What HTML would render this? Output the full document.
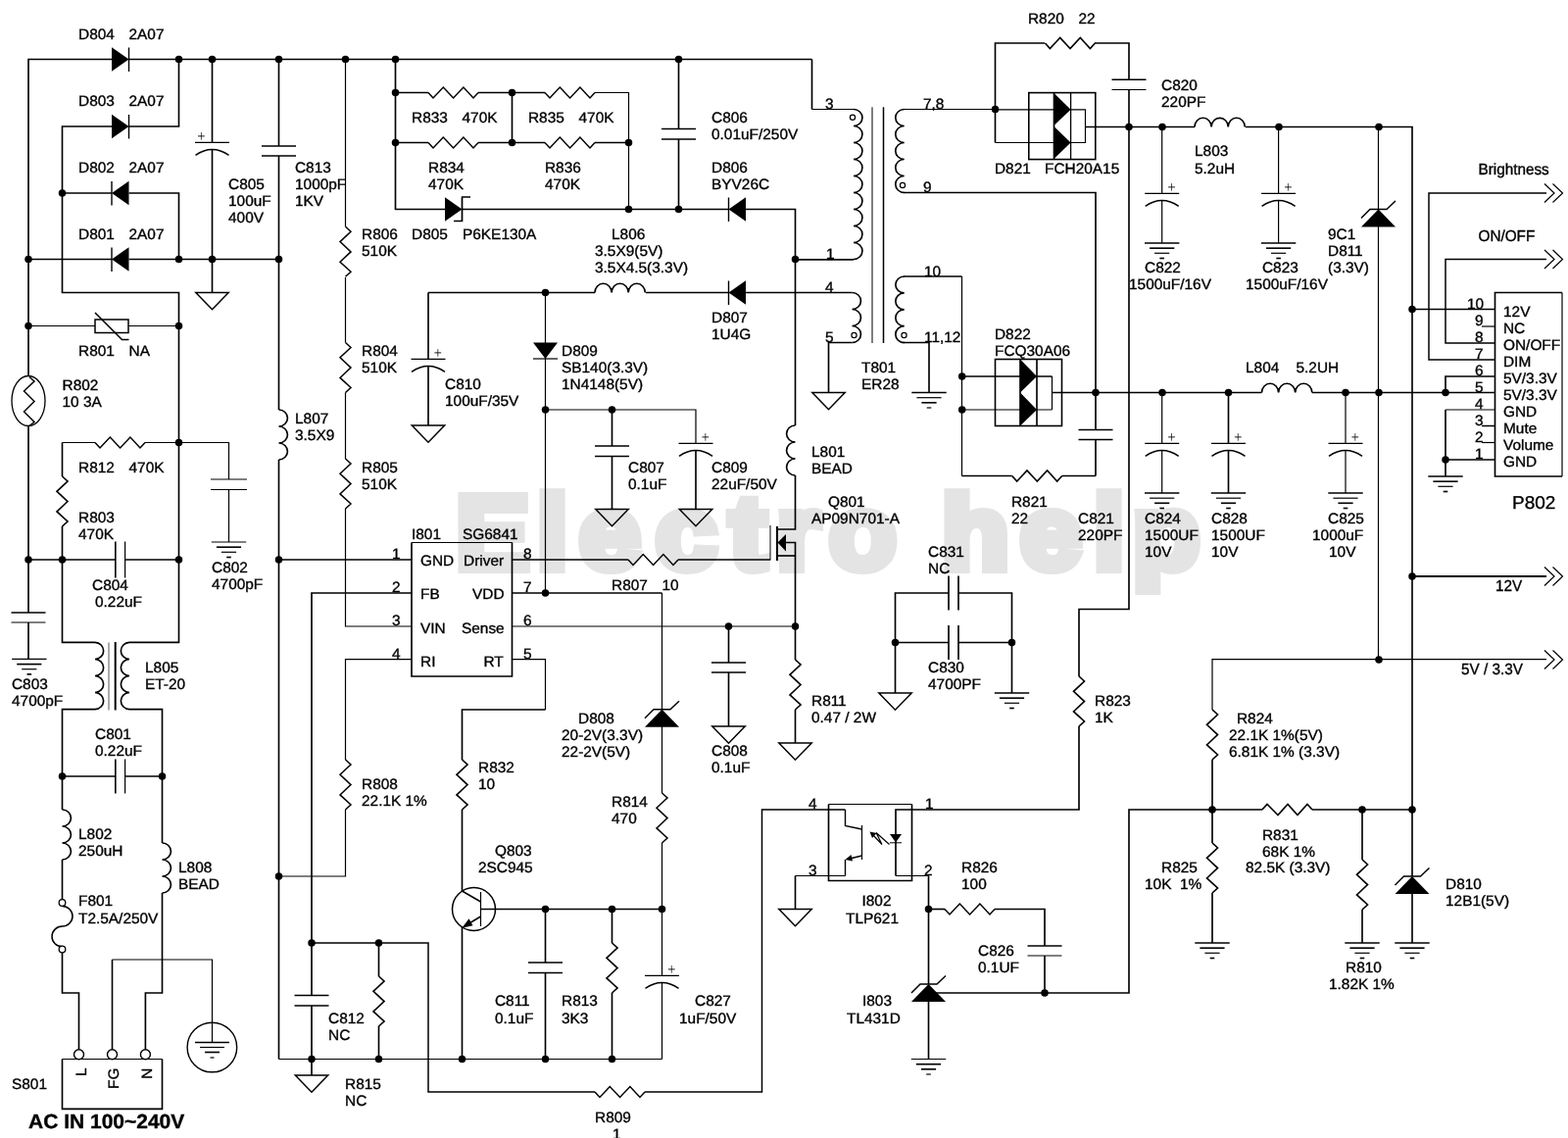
<!DOCTYPE html>
<html lang="en">
<head>
<meta charset="utf-8">
<title>Power supply schematic</title>
<style>
html,body{margin:0;padding:0;background:#fff;}
body{width:1600px;height:1161px;overflow:hidden;font-family:"Liberation Sans",Arial,sans-serif;}
svg{display:block;will-change:transform;}
text{white-space:pre;}
</style>
</head>
<body>
<svg width="1600" height="1161" viewBox="0 0 1600 1161">
<rect width="1600" height="1161" fill="#fff"/>
<text transform="scale(1.06,1)" y="579.7" x="439.0 517.0 557.5 631.1 702.4 747.6 798.1 858.1 906.6 982.1 1052.8 1090.4" font-family="'Liberation Sans', Arial, sans-serif" font-weight="bold" font-size="106" fill="#e4e4e4" stroke="#e4e4e4" stroke-width="10" stroke-linejoin="miter" text-rendering="geometricPrecision" xml:space="preserve">Electro help</text>
<g fill="none" stroke="#000" stroke-linecap="butt" stroke-linejoin="miter">
<polyline points="29,625 29,434.5" stroke-width="1.65"/>
<polyline points="29,384 29,60.5 114,60.5" stroke-width="1.65"/>
<line x1="131.5" y1="60.5" x2="828.5" y2="60.5" stroke-width="1.65"/>
<polygon points="114,48.2 131.5,60.5 114,72.8" fill="#000" stroke="none"/>
<line x1="131.5" y1="48.5" x2="131.5" y2="73" stroke-width="1.4"/>
<polyline points="182.5,60.5 182.5,129 131.5,129" stroke-width="1.65"/>
<polyline points="114,129 63.5,129 63.5,298.5 182.5,298.5 182.5,655.4 132,655.4" stroke-width="1.65"/>
<polygon points="114,116.7 131.5,129 114,141.3" fill="#000" stroke="none"/>
<line x1="131.5" y1="117" x2="131.5" y2="141.5" stroke-width="1.4"/>
<polyline points="63.5,197 114,197" stroke-width="1.65"/>
<polyline points="131.5,197 182.5,197 182.5,264.5" stroke-width="1.65"/>
<polygon points="131.5,184.7 114,197 131.5,209.3" fill="#000" stroke="none"/>
<line x1="114" y1="185" x2="114" y2="209.5" stroke-width="1.4"/>
<line x1="29" y1="264.5" x2="114" y2="264.5" stroke-width="1.65"/>
<line x1="131.5" y1="264.5" x2="284.5" y2="264.5" stroke-width="1.65"/>
<polygon points="131.5,252.2 114,264.5 131.5,276.8" fill="#000" stroke="none"/>
<line x1="114" y1="252.5" x2="114" y2="277" stroke-width="1.4"/>
<line x1="216.5" y1="60.5" x2="216.5" y2="145" stroke-width="1.65"/>
<line x1="199" y1="145.4" x2="234" y2="145.4" stroke-width="1.2"/>
<path d="M199.5,158.3 Q216.5,146.6 233.5,158.3" stroke-width="1.5"/>
<line x1="202" y1="138.9" x2="208.8" y2="138.9" stroke-width="0.9"/>
<line x1="205.4" y1="135.1" x2="205.4" y2="142.7" stroke-width="0.7"/>
<line x1="216.5" y1="152" x2="216.5" y2="298.5" stroke-width="1.65"/>
<polygon points="199.8,298.5 233.2,298.5 216.5,315.7" fill="none" stroke-width="1.5"/>
<line x1="284.5" y1="60.5" x2="284.5" y2="149" stroke-width="1.65"/>
<line x1="267" y1="149" x2="302" y2="149" stroke-width="1.65"/>
<line x1="267" y1="159" x2="302" y2="159" stroke-width="1.65"/>
<line x1="284.5" y1="159" x2="284.5" y2="418" stroke-width="1.65"/>
<path d="M284.5,418 a8.93,8.5 0 0 1 0,17 a8.93,8.5 0 0 1 0,17 a8.93,8.5 0 0 1 0,17" stroke-width="1.65"/>
<line x1="284.5" y1="469" x2="284.5" y2="1080.5" stroke-width="1.65"/>
<line x1="352.5" y1="60.5" x2="352.5" y2="231.3" stroke-width="1.2"/>
<polyline points="352.5,231.3 358,236.3 347,246.6 358,256.9 347,267.2 358,277.3 352.5,282.3" stroke-width="1.5"/>
<line x1="352.5" y1="283" x2="352.5" y2="349.5" stroke-width="1.2"/>
<polyline points="352.5,349.5 358,354.5 347,364.8 358,375.1 347,385.4 358,395.5 352.5,400.5" stroke-width="1.5"/>
<line x1="352.5" y1="400.5" x2="352.5" y2="468" stroke-width="1.2"/>
<polyline points="352.5,468 358,473 347,483.3 358,493.6 347,503.9 358,514 352.5,519" stroke-width="1.5"/>
<polyline points="352.5,519 352.5,639 420,639" stroke-width="1.2"/>
<line x1="29" y1="332.5" x2="97" y2="332.5" stroke-width="1.2"/>
<line x1="131" y1="332.5" x2="182.5" y2="332.5" stroke-width="1.2"/>
<rect x="97" y="326" width="34" height="13.5" stroke-width="1.5"/>
<polyline points="97,319 124.5,346.5 131.5,346.5" stroke-width="1.5"/>
<ellipse cx="29" cy="409" rx="17" ry="25.5" stroke-width="1.3"/>
<polyline points="30,384.5 35,389 24.5,399 35,409.5 24.5,420 35,430.5 30,434.5" stroke-width="1.5"/>
<line x1="63.5" y1="451.5" x2="97" y2="451.5" stroke-width="1.2"/>
<polyline points="97,451.5 102,457 112.3,446 122.6,457 132.9,446 143,457 148,451.5" stroke-width="1.5"/>
<polyline points="148,451.5 233.5,451.5 233.5,489" stroke-width="1.2"/>
<line x1="215" y1="489" x2="252" y2="489" stroke-width="1.2"/>
<line x1="215" y1="499.5" x2="252" y2="499.5" stroke-width="1.2"/>
<line x1="233.5" y1="499.5" x2="233.5" y2="553" stroke-width="1.2"/>
<line x1="215.8" y1="553" x2="251.2" y2="553" stroke-width="1.2"/>
<line x1="220.9" y1="558.2" x2="246.1" y2="558.2" stroke-width="1.65"/>
<line x1="225.9" y1="563.3" x2="241.1" y2="563.3" stroke-width="1.2"/>
<line x1="231.2" y1="568.5" x2="235.8" y2="568.5" stroke-width="1.65"/>
<line x1="63.5" y1="451.5" x2="63.5" y2="486" stroke-width="1.65"/>
<polyline points="63.5,486 69,491 58,501.3 69,511.6 58,521.9 69,532 63.5,537" stroke-width="1.65"/>
<polyline points="63.5,537 63.5,655.4 97,655.4" stroke-width="1.65"/>
<line x1="29" y1="571" x2="118" y2="571" stroke-width="1.65"/>
<line x1="128" y1="571" x2="182.5" y2="571" stroke-width="1.65"/>
<line x1="117.8" y1="552.5" x2="117.8" y2="589.5" stroke-width="1.65"/>
<line x1="127.6" y1="552.5" x2="127.6" y2="589.5" stroke-width="1.2"/>
<line x1="11.5" y1="625" x2="46.5" y2="625" stroke-width="1.65"/>
<line x1="11.5" y1="635" x2="46.5" y2="635" stroke-width="1.2"/>
<line x1="29" y1="635" x2="29" y2="672.5" stroke-width="1.65"/>
<line x1="12.1" y1="672.4" x2="47.5" y2="672.4" stroke-width="1.2"/>
<line x1="17.2" y1="677.6" x2="42.4" y2="677.6" stroke-width="1.65"/>
<line x1="22.2" y1="682.7" x2="37.4" y2="682.7" stroke-width="1.2"/>
<line x1="27.5" y1="687.9" x2="32.1" y2="687.9" stroke-width="1.65"/>
<path d="M97,655.4 a8.95,8.53 0 0 1 0,17.05 a8.95,8.53 0 0 1 0,17.05 a8.95,8.53 0 0 1 0,17.05 a8.95,8.53 0 0 1 0,17.05" stroke-width="1.65"/>
<polyline points="97,723.6 63.5,723.6 63.5,826" stroke-width="1.65"/>
<path d="M132,655.4 a8.95,8.53 0 0 0 0,17.05 a8.95,8.53 0 0 0 0,17.05 a8.95,8.53 0 0 0 0,17.05 a8.95,8.53 0 0 0 0,17.05" stroke-width="1.65"/>
<polyline points="132,723.6 165.5,723.6 165.5,860" stroke-width="1.65"/>
<line x1="111" y1="655.5" x2="111" y2="724.5" stroke-width="1.1" stroke="#666"/>
<line x1="117.7" y1="655" x2="117.7" y2="724.5" stroke-width="2"/>
<line x1="63.5" y1="792" x2="118" y2="792" stroke-width="1.65"/>
<line x1="128" y1="792" x2="165.5" y2="792" stroke-width="1.65"/>
<line x1="117.8" y1="774.5" x2="117.8" y2="809.5" stroke-width="1.65"/>
<line x1="127.6" y1="774.5" x2="127.6" y2="809.5" stroke-width="1.2"/>
<path d="M63.5,826 a8.93,8.5 0 0 1 0,17 a8.93,8.5 0 0 1 0,17 a8.93,8.5 0 0 1 0,17" stroke-width="1.65"/>
<line x1="63.5" y1="877" x2="63.5" y2="918" stroke-width="1.65"/>
<path d="M63.5,924.5 a10.5,10.3 0 0 1 0,20.6 a10.5,10.3 0 0 0 0,20.6" stroke-width="1.5"/>
<circle cx="63.5" cy="921" r="3.3" fill="#fff" stroke-width="1.3"/>
<circle cx="63.5" cy="968.5" r="3.3" fill="#fff" stroke-width="1.3"/>
<polyline points="63.5,972 63.5,1013 80.5,1013 80.5,1070.5" stroke-width="1.65"/>
<path d="M165.5,860 a8.93,8.5 0 0 1 0,17 a8.93,8.5 0 0 1 0,17 a8.93,8.5 0 0 1 0,17" stroke-width="1.65"/>
<polyline points="165.5,911 165.5,1013 148.4,1013 148.4,1070.5" stroke-width="1.65"/>
<line x1="114.5" y1="1070.5" x2="114.5" y2="979" stroke-width="1.6"/>
<polyline points="114.5,979 216.5,979 216.5,1063.5" stroke-width="1.2"/>
<circle cx="216.4" cy="1068.5" r="25.3" stroke-width="1.4"/>
<line x1="199" y1="1063.5" x2="234" y2="1063.5" stroke-width="1.65"/>
<line x1="204" y1="1068.5" x2="229" y2="1068.5" stroke-width="1.2"/>
<line x1="209" y1="1073.5" x2="224" y2="1073.5" stroke-width="1.65"/>
<line x1="214.5" y1="1079" x2="218.5" y2="1079" stroke-width="1.2"/>
<polyline points="63.5,1080.5 63.5,1131.3 165.5,1131.3 165.5,1080.5" stroke-width="1.65"/>
<line x1="63.5" y1="1080.5" x2="165.5" y2="1080.5" stroke-width="1.2"/>
<circle cx="80.5" cy="1075.8" r="5" fill="#fff" stroke-width="1.4"/>
<circle cx="114.5" cy="1075.8" r="5" fill="#fff" stroke-width="1.4"/>
<circle cx="148.4" cy="1075.8" r="5" fill="#fff" stroke-width="1.4"/>
<polyline points="403.5,60.5 403.5,213.5 454,213.5" stroke-width="1.65"/>
<polygon points="454,201.2 471.5,213.5 454,225.8" fill="#000" stroke="none"/>
<line x1="471.5" y1="201.5" x2="471.5" y2="226" stroke-width="1.4"/>
<polyline points="480,201 471.5,201 471.5,225.5 463,225.5" stroke-width="1.4"/>
<line x1="471.5" y1="213.5" x2="743.5" y2="213.5" stroke-width="1.65"/>
<polygon points="761,201.2 743.5,213.5 761,225.8" fill="#000" stroke="none"/>
<line x1="743.5" y1="201.5" x2="743.5" y2="226" stroke-width="1.4"/>
<polyline points="761,213.5 811.5,213.5 811.5,434" stroke-width="1.65"/>
<line x1="403.5" y1="94.5" x2="437" y2="94.5" stroke-width="1.65"/>
<polyline points="437,94.5 442,100 452.3,89 462.6,100 472.9,89 483,100 488,94.5" stroke-width="1.5"/>
<line x1="488" y1="94.5" x2="556" y2="94.5" stroke-width="1.65"/>
<polyline points="556,94.5 561,100 571.3,89 581.6,100 591.9,89 602,100 607,94.5" stroke-width="1.5"/>
<polyline points="607,94.5 641.5,94.5 641.5,213.5" stroke-width="1.2"/>
<line x1="403.5" y1="145.5" x2="437" y2="145.5" stroke-width="1.65"/>
<polyline points="437,145.5 442,151 452.3,140 462.6,151 472.9,140 483,151 488,145.5" stroke-width="1.5"/>
<line x1="488" y1="145.5" x2="556" y2="145.5" stroke-width="1.65"/>
<polyline points="556,145.5 561,151 571.3,140 581.6,151 591.9,140 602,151 607,145.5" stroke-width="1.5"/>
<line x1="607" y1="145.5" x2="641.5" y2="145.5" stroke-width="1.65"/>
<line x1="522.5" y1="94.5" x2="522.5" y2="145.5" stroke-width="1.65"/>
<line x1="692.5" y1="60.5" x2="692.5" y2="131.5" stroke-width="1.65"/>
<line x1="675" y1="131.5" x2="710" y2="131.5" stroke-width="1.65"/>
<line x1="675" y1="142" x2="710" y2="142" stroke-width="1.65"/>
<line x1="692.5" y1="142" x2="692.5" y2="213.5" stroke-width="1.65"/>
<polyline points="828.5,60.5 828.5,111.5" stroke-width="1.65"/>
<line x1="828.5" y1="111.5" x2="871" y2="111.5" stroke-width="1.2"/>
<path d="M871,111.5 a8.93,8.5 0 0 1 0,17 a8.93,8.5 0 0 1 0,17 a8.93,8.5 0 0 1 0,17 a8.93,8.5 0 0 1 0,17 a8.93,8.5 0 0 1 0,17 a8.93,8.5 0 0 1 0,17 a8.93,8.5 0 0 1 0,17 a8.93,8.5 0 0 1 0,17 a8.93,8.5 0 0 1 0,17" stroke-width="1.65"/>
<circle cx="870" cy="119.7" r="2.6" fill="#fff" stroke-width="1.2"/>
<line x1="811.5" y1="264.8" x2="871" y2="264.8" stroke-width="1.65"/>
<line x1="890" y1="109.3" x2="890" y2="350" stroke-width="1"/>
<line x1="901.5" y1="109.3" x2="901.5" y2="350" stroke-width="1.5"/>
<path d="M922.7,111.5 a8.93,8.5 0 0 0 0,17 a8.93,8.5 0 0 0 0,17 a8.93,8.5 0 0 0 0,17 a8.93,8.5 0 0 0 0,17 a8.93,8.5 0 0 0 0,17" stroke-width="1.65"/>
<circle cx="921" cy="189" r="2.6" fill="#fff" stroke-width="1.2"/>
<line x1="922" y1="111.5" x2="1015.5" y2="111.5" stroke-width="1.2"/>
<polyline points="922,196.5 1118,196.5 1118,438.5" stroke-width="1.65"/>
<line x1="437" y1="298.5" x2="607" y2="298.5" stroke-width="1.65"/>
<path d="M607,298.5 a8.55,9.23 0 0 1 17.1,0 a8.55,9.23 0 0 1 17.1,0 a8.55,9.23 0 0 1 17.1,0" stroke-width="1.65"/>
<line x1="659" y1="298.5" x2="743.5" y2="298.5" stroke-width="1.65"/>
<polygon points="761,286.2 743.5,298.5 761,310.8" fill="#000" stroke="none"/>
<line x1="743.5" y1="286.5" x2="743.5" y2="311" stroke-width="1.4"/>
<line x1="761" y1="298.5" x2="869.5" y2="298.5" stroke-width="1.65"/>
<path d="M869.5,298.5 a8.93,8.5 0 0 1 0,17 a8.93,8.5 0 0 1 0,17 a8.93,8.5 0 0 1 0,17" stroke-width="1.65"/>
<circle cx="871.5" cy="342" r="2.6" fill="#fff" stroke-width="1.2"/>
<polyline points="869.5,349.5 845.5,349.5 845.5,400.5" stroke-width="1.65"/>
<polygon points="828.8,400.5 862.2,400.5 845.5,417.7" fill="none" stroke-width="1.5"/>
<path d="M922.7,282 a8.87,8.45 0 0 0 0,16.9 a8.87,8.45 0 0 0 0,16.9 a8.87,8.45 0 0 0 0,16.9 a8.87,8.45 0 0 0 0,16.9" stroke-width="1.65"/>
<circle cx="922.5" cy="342" r="2.6" fill="#fff" stroke-width="1.2"/>
<line x1="922" y1="282" x2="981.5" y2="282" stroke-width="1.5"/>
<line x1="981.5" y1="282" x2="981.5" y2="485.5" stroke-width="1.2"/>
<polyline points="922,349.5 948,349.5 948,400.5" stroke-width="1.65"/>
<line x1="930.3" y1="400.5" x2="965.7" y2="400.5" stroke-width="1.65"/>
<line x1="935.4" y1="405.7" x2="960.6" y2="405.7" stroke-width="1.2"/>
<line x1="940.4" y1="410.8" x2="955.6" y2="410.8" stroke-width="1.65"/>
<line x1="945.7" y1="416" x2="950.3" y2="416" stroke-width="1.2"/>
<line x1="437" y1="298.5" x2="437" y2="366" stroke-width="1.65"/>
<line x1="419.5" y1="366.4" x2="454.5" y2="366.4" stroke-width="1.2"/>
<path d="M420,379.3 Q437,367.6 454,379.3" stroke-width="1.5"/>
<line x1="443.4" y1="359.9" x2="450.2" y2="359.9" stroke-width="0.9"/>
<line x1="446.8" y1="356.1" x2="446.8" y2="363.7" stroke-width="0.7"/>
<line x1="437" y1="373" x2="437" y2="434" stroke-width="1.65"/>
<polygon points="420.3,434 453.7,434 437,451.2" fill="none" stroke-width="1.5"/>
<line x1="556.5" y1="298.5" x2="556.5" y2="605" stroke-width="1.2"/>
<polygon points="544,349.5 569,349.5 556.5,366" fill="#000" stroke="none"/>
<line x1="544" y1="366" x2="569" y2="366" stroke-width="1.2"/>
<polyline points="556.5,418 710,418 710,452" stroke-width="1.2"/>
<line x1="692.5" y1="452.4" x2="727.5" y2="452.4" stroke-width="1.2"/>
<path d="M693,465.3 Q710,453.6 727,465.3" stroke-width="1.5"/>
<line x1="716.4" y1="445.9" x2="723.2" y2="445.9" stroke-width="0.9"/>
<line x1="719.8" y1="442.1" x2="719.8" y2="449.7" stroke-width="0.7"/>
<line x1="710" y1="459" x2="710" y2="519.5" stroke-width="1.65"/>
<polygon points="693.3,519.5 726.7,519.5 710,536.7" fill="none" stroke-width="1.5"/>
<line x1="624.5" y1="418" x2="624.5" y2="455" stroke-width="1.65"/>
<line x1="607" y1="455" x2="642" y2="455" stroke-width="1.65"/>
<line x1="607" y1="465.5" x2="642" y2="465.5" stroke-width="1.65"/>
<line x1="624.5" y1="465.5" x2="624.5" y2="519.5" stroke-width="1.65"/>
<polygon points="607.8,519.5 641.2,519.5 624.5,536.7" fill="none" stroke-width="1.5"/>
<path d="M811.5,434 a8.93,8.5 0 0 0 0,17 a8.93,8.5 0 0 0 0,17 a8.93,8.5 0 0 0 0,17" stroke-width="1.65"/>
<polyline points="811.5,485 811.5,540 793,540" stroke-width="1.65"/>
<line x1="786" y1="536" x2="786" y2="571.5" stroke-width="1"/>
<line x1="793" y1="537" x2="793" y2="572" stroke-width="2.2"/>
<line x1="793" y1="567" x2="811.5" y2="567" stroke-width="1.65"/>
<polyline points="802,553.5 811.5,553.5 811.5,673" stroke-width="1.65"/>
<polygon points="793.5,553.5 802,545 802,562.5" fill="#000" stroke="none"/>
<polyline points="811.5,673 817,678 806,688.3 817,698.6 806,708.9 817,719 811.5,724" stroke-width="1.65"/>
<line x1="811.5" y1="724" x2="811.5" y2="758" stroke-width="1.65"/>
<polygon points="794.8,758 828.2,758 811.5,775.2" fill="none" stroke-width="1.5"/>
<line x1="743.5" y1="639" x2="743.5" y2="676" stroke-width="1.65"/>
<line x1="726" y1="676" x2="761" y2="676" stroke-width="1.65"/>
<line x1="726" y1="686" x2="761" y2="686" stroke-width="1.65"/>
<line x1="743.5" y1="686" x2="743.5" y2="741" stroke-width="1.65"/>
<polygon points="726.8,741 760.2,741 743.5,758.2" fill="none" stroke-width="1.5"/>
<polyline points="522.5,553.5 420,553.5" stroke-width="1.2"/>
<polyline points="420,553.5 420,690 522.5,690 522.5,553.5" stroke-width="1.65"/>
<line x1="284.5" y1="571" x2="420" y2="571" stroke-width="1.65"/>
<polyline points="318,1080.5 318,1026" stroke-width="1.65"/>
<polyline points="318,1015.5 318,605 420,605" stroke-width="1.65"/>
<polyline points="420,672.6 352.5,672.6 352.5,775" stroke-width="1.2"/>
<polyline points="352.5,775 358,780 347,790.3 358,800.6 347,810.9 358,821 352.5,826" stroke-width="1.5"/>
<polyline points="352.5,826 352.5,894 284.5,894" stroke-width="1.2"/>
<line x1="522.5" y1="571" x2="641" y2="571" stroke-width="1.65"/>
<polyline points="641,571 646,576.5 656.3,565.5 666.6,576.5 676.9,565.5 687,576.5 692,571" stroke-width="1.5"/>
<line x1="692" y1="571" x2="786" y2="571" stroke-width="1.65"/>
<line x1="522.5" y1="605" x2="675.5" y2="605" stroke-width="1.65"/>
<line x1="675.5" y1="605" x2="675.5" y2="809" stroke-width="1.2"/>
<polygon points="658,741.7 675.5,723.7 693,741.7" fill="#000" stroke="none"/>
<polyline points="658,732.7 667,723.7 684,723.7 693,715.2" stroke-width="1.5"/>
<polyline points="675.5,809 681,814 670,824.3 681,834.6 670,844.9 681,855 675.5,860" stroke-width="1.5"/>
<line x1="675.5" y1="860" x2="675.5" y2="995" stroke-width="1.2"/>
<line x1="522.5" y1="639" x2="811.5" y2="639" stroke-width="1.2"/>
<polyline points="522.5,672.6 556.5,672.6 556.5,724" stroke-width="1.2"/>
<polyline points="556.5,724 471.5,724 471.5,775" stroke-width="1.65"/>
<polyline points="471.5,775 477,780 466,790.3 477,800.6 466,810.9 477,821 471.5,826" stroke-width="1.65"/>
<line x1="471.5" y1="826" x2="471.5" y2="909" stroke-width="1.65"/>
<circle cx="483.5" cy="927.5" r="22" stroke-width="1.5"/>
<line x1="490.5" y1="910" x2="490.5" y2="945" stroke-width="1.2"/>
<line x1="471.5" y1="909" x2="490.5" y2="920" stroke-width="1.5"/>
<line x1="490.5" y1="935" x2="478" y2="942.5" stroke-width="1.5"/>
<polygon points="471.3,946.8 478.5,937.2 482.5,944.2" fill="#000" stroke="none"/>
<line x1="490.5" y1="927.5" x2="675.5" y2="927.5" stroke-width="1.65"/>
<line x1="471.5" y1="946" x2="471.5" y2="1080.5" stroke-width="1.65"/>
<line x1="556.5" y1="927.5" x2="556.5" y2="982" stroke-width="1.65"/>
<line x1="539" y1="982" x2="574" y2="982" stroke-width="1.65"/>
<line x1="539" y1="992.5" x2="574" y2="992.5" stroke-width="1.65"/>
<line x1="556.5" y1="992.5" x2="556.5" y2="1080.5" stroke-width="1.65"/>
<line x1="624.5" y1="927.5" x2="624.5" y2="962" stroke-width="1.65"/>
<polyline points="624.5,962 630,967 619,977.3 630,987.6 619,997.9 630,1008 624.5,1013" stroke-width="1.65"/>
<line x1="624.5" y1="1013" x2="624.5" y2="1080.5" stroke-width="1.65"/>
<line x1="658" y1="995.4" x2="693" y2="995.4" stroke-width="1.2"/>
<path d="M658.5,1008.3 Q675.5,996.6 692.5,1008.3" stroke-width="1.5"/>
<line x1="681.9" y1="988.9" x2="688.7" y2="988.9" stroke-width="0.9"/>
<line x1="685.3" y1="985.1" x2="685.3" y2="992.7" stroke-width="0.7"/>
<line x1="675.5" y1="1002" x2="675.5" y2="1080.5" stroke-width="1.2"/>
<line x1="284.5" y1="1080.5" x2="675.5" y2="1080.5" stroke-width="1.2"/>
<polyline points="318,962 437,962 437,1114 607,1114" stroke-width="1.5"/>
<polyline points="607,1114 612,1119.5 622.3,1108.5 632.6,1119.5 642.9,1108.5 653,1119.5 658,1114" stroke-width="1.5"/>
<polyline points="658,1114 777.5,1114 777.5,826 862.5,826" stroke-width="1.5"/>
<line x1="300.5" y1="1015.5" x2="335.5" y2="1015.5" stroke-width="1.65"/>
<line x1="300.5" y1="1026" x2="335.5" y2="1026" stroke-width="1.65"/>
<line x1="318" y1="1080.5" x2="318" y2="1097" stroke-width="1.65"/>
<polygon points="301.3,1097 334.7,1097 318,1114.2" fill="none" stroke-width="1.5"/>
<line x1="386.5" y1="962" x2="386.5" y2="996" stroke-width="1.65"/>
<polyline points="386.5,996 392,1001 381,1011.3 392,1021.6 381,1031.9 392,1042 386.5,1047" stroke-width="1.65"/>
<line x1="386.5" y1="1047" x2="386.5" y2="1080.5" stroke-width="1.65"/>
<polyline points="913.5,707 913.5,605 968,605" stroke-width="1.65"/>
<polyline points="978,605 1032.5,605 1032.5,707" stroke-width="1.65"/>
<line x1="968" y1="587.5" x2="968" y2="622.5" stroke-width="1.65"/>
<line x1="978" y1="587.5" x2="978" y2="622.5" stroke-width="1.65"/>
<line x1="913.5" y1="655.5" x2="968" y2="655.5" stroke-width="1.65"/>
<line x1="978" y1="655.5" x2="1032.5" y2="655.5" stroke-width="1.65"/>
<line x1="968" y1="638" x2="968" y2="673" stroke-width="1.65"/>
<line x1="978" y1="638" x2="978" y2="673" stroke-width="1.65"/>
<polygon points="896.8,707 930.2,707 913.5,724.2" fill="none" stroke-width="1.5"/>
<line x1="1014.8" y1="707" x2="1050.2" y2="707" stroke-width="1.65"/>
<line x1="1019.9" y1="712.2" x2="1045.1" y2="712.2" stroke-width="1.65"/>
<line x1="1024.9" y1="717.3" x2="1040.1" y2="717.3" stroke-width="1.2"/>
<line x1="1030.2" y1="722.5" x2="1034.8" y2="722.5" stroke-width="1.65"/>
<polyline points="1015.5,145.5 1015.5,44 1066,44" stroke-width="1.65"/>
<polyline points="1066.4,44 1071.4,49.5 1081.7,38.5 1092,49.5 1102.3,38.5 1112.4,49.5 1117.4,44" stroke-width="1.65"/>
<polyline points="1117,44 1152,44 1152,81" stroke-width="1.65"/>
<line x1="1134.5" y1="81.2" x2="1169.5" y2="81.2" stroke-width="1.5"/>
<line x1="1134.5" y1="91.5" x2="1169.5" y2="91.5" stroke-width="1.2"/>
<polyline points="1152,91.5 1152,621.5 1101,621.5 1101,690" stroke-width="1.65"/>
<polyline points="1101,690 1106.5,695 1095.5,705.3 1106.5,715.6 1095.5,725.9 1106.5,736 1101,741" stroke-width="1.65"/>
<polyline points="1101,741 1101,826 914,826 914,893.5" stroke-width="1.65"/>
<line x1="914" y1="893.5" x2="947.5" y2="893.5" stroke-width="1.2"/>
<rect x="1049.8" y="94.6" width="68" height="68" stroke-width="1.6"/>
<line x1="1075.5" y1="94.5" x2="1075.5" y2="162.5" stroke-width="1.65"/>
<line x1="1092.6" y1="94.5" x2="1092.6" y2="162.5" stroke-width="1.3"/>
<polygon points="1075,94.5 1092.6,111.8 1075,128.5" fill="#000" stroke="none"/>
<polygon points="1075,128.5 1092.6,145.5 1075,162.5" fill="#000" stroke="none"/>
<polyline points="1015.5,111.8 1107.5,111.8 1107.5,145.5 1015.5,145.5" stroke-width="1.2"/>
<line x1="1107.5" y1="129.5" x2="1219" y2="129.5" stroke-width="1.65"/>
<path d="M1219,129.5 a8.55,9.23 0 0 1 17.1,0 a8.55,9.23 0 0 1 17.1,0 a8.55,9.23 0 0 1 17.1,0" stroke-width="1.65"/>
<polyline points="1271,129.5 1441,129.5 1441,894" stroke-width="1.65"/>
<polyline points="1441,911 1441,962" stroke-width="1.65"/>
<line x1="1185.7" y1="129.5" x2="1185.7" y2="197" stroke-width="1.2"/>
<line x1="1168.2" y1="197.4" x2="1203.2" y2="197.4" stroke-width="1.2"/>
<path d="M1168.7,210.3 Q1185.7,198.6 1202.7,210.3" stroke-width="1.5"/>
<line x1="1192.1" y1="190.9" x2="1198.9" y2="190.9" stroke-width="0.9"/>
<line x1="1195.5" y1="187.1" x2="1195.5" y2="194.7" stroke-width="0.7"/>
<line x1="1185.7" y1="204" x2="1185.7" y2="248" stroke-width="1.2"/>
<line x1="1168" y1="248" x2="1203.4" y2="248" stroke-width="1.65"/>
<line x1="1173.1" y1="253.2" x2="1198.3" y2="253.2" stroke-width="1.65"/>
<line x1="1178.1" y1="258.3" x2="1193.3" y2="258.3" stroke-width="1.2"/>
<line x1="1183.4" y1="263.5" x2="1188" y2="263.5" stroke-width="1.65"/>
<line x1="1304.6" y1="129.5" x2="1304.6" y2="197" stroke-width="1.2"/>
<line x1="1287.1" y1="197.4" x2="1322.1" y2="197.4" stroke-width="1.2"/>
<path d="M1287.6,210.3 Q1304.6,198.6 1321.6,210.3" stroke-width="1.5"/>
<line x1="1311" y1="190.9" x2="1317.8" y2="190.9" stroke-width="0.9"/>
<line x1="1314.4" y1="187.1" x2="1314.4" y2="194.7" stroke-width="0.7"/>
<line x1="1304.6" y1="204" x2="1304.6" y2="248" stroke-width="1.2"/>
<line x1="1286.9" y1="248" x2="1322.3" y2="248" stroke-width="1.65"/>
<line x1="1292" y1="253.2" x2="1317.2" y2="253.2" stroke-width="1.65"/>
<line x1="1297" y1="258.3" x2="1312.2" y2="258.3" stroke-width="1.2"/>
<line x1="1302.3" y1="263.5" x2="1306.9" y2="263.5" stroke-width="1.65"/>
<line x1="1406.5" y1="129.5" x2="1406.5" y2="673" stroke-width="1.2"/>
<polygon points="1389,231.5 1406.5,213.5 1424,231.5" fill="#000" stroke="none"/>
<polyline points="1389,222.5 1398,213.5 1415,213.5 1424,205" stroke-width="1.5"/>
<line x1="1100.5" y1="438.5" x2="1135.5" y2="438.5" stroke-width="1.65"/>
<line x1="1100.5" y1="448.5" x2="1135.5" y2="448.5" stroke-width="1.65"/>
<line x1="1118" y1="448.5" x2="1118" y2="485.5" stroke-width="1.65"/>
<line x1="981.5" y1="485.5" x2="1032.7" y2="485.5" stroke-width="1.65"/>
<polyline points="1032.7,485.5 1037.7,491 1048,480 1058.3,491 1068.6,480 1078.7,491 1083.7,485.5" stroke-width="1.65"/>
<line x1="1083.7" y1="485.5" x2="1118" y2="485.5" stroke-width="1.65"/>
<rect x="1015.5" y="366.5" width="68" height="68" stroke-width="1.6"/>
<line x1="1041" y1="366.5" x2="1041" y2="434.5" stroke-width="1.65"/>
<line x1="1058" y1="366.5" x2="1058" y2="434.5" stroke-width="1.65"/>
<polygon points="1041,366.5 1058,384 1041,400.5" fill="#000" stroke="none"/>
<polygon points="1041,400.5 1058,418 1041,434.5" fill="#000" stroke="none"/>
<line x1="981.5" y1="384" x2="1073.5" y2="384" stroke-width="1.65"/>
<line x1="981.5" y1="418" x2="1073.5" y2="418" stroke-width="1.2"/>
<line x1="1073.5" y1="384" x2="1073.5" y2="418" stroke-width="1.2"/>
<line x1="1073.5" y1="400.5" x2="1287.5" y2="400.5" stroke-width="1.65"/>
<path d="M1287.5,400.5 a8.55,9.23 0 0 1 17.1,0 a8.55,9.23 0 0 1 17.1,0 a8.55,9.23 0 0 1 17.1,0" stroke-width="1.65"/>
<line x1="1339" y1="400.5" x2="1525.5" y2="400.5" stroke-width="1.65"/>
<line x1="1185.7" y1="400.5" x2="1185.7" y2="452" stroke-width="1.2"/>
<line x1="1168.2" y1="452.4" x2="1203.2" y2="452.4" stroke-width="1.2"/>
<path d="M1168.7,465.3 Q1185.7,453.6 1202.7,465.3" stroke-width="1.5"/>
<line x1="1192.1" y1="445.9" x2="1198.9" y2="445.9" stroke-width="0.9"/>
<line x1="1195.5" y1="442.1" x2="1195.5" y2="449.7" stroke-width="0.7"/>
<line x1="1185.7" y1="459" x2="1185.7" y2="503" stroke-width="1.2"/>
<line x1="1168" y1="503" x2="1203.4" y2="503" stroke-width="1.65"/>
<line x1="1173.1" y1="508.2" x2="1198.3" y2="508.2" stroke-width="1.2"/>
<line x1="1178.1" y1="513.3" x2="1193.3" y2="513.3" stroke-width="1.65"/>
<line x1="1183.4" y1="518.5" x2="1188" y2="518.5" stroke-width="1.65"/>
<line x1="1253.5" y1="400.5" x2="1253.5" y2="452" stroke-width="1.65"/>
<line x1="1236" y1="452.4" x2="1271" y2="452.4" stroke-width="1.2"/>
<path d="M1236.5,465.3 Q1253.5,453.6 1270.5,465.3" stroke-width="1.5"/>
<line x1="1259.9" y1="445.9" x2="1266.7" y2="445.9" stroke-width="0.9"/>
<line x1="1263.3" y1="442.1" x2="1263.3" y2="449.7" stroke-width="0.7"/>
<line x1="1253.5" y1="459" x2="1253.5" y2="503" stroke-width="1.65"/>
<line x1="1235.8" y1="503" x2="1271.2" y2="503" stroke-width="1.65"/>
<line x1="1240.9" y1="508.2" x2="1266.1" y2="508.2" stroke-width="1.2"/>
<line x1="1245.9" y1="513.3" x2="1261.1" y2="513.3" stroke-width="1.65"/>
<line x1="1251.2" y1="518.5" x2="1255.8" y2="518.5" stroke-width="1.65"/>
<line x1="1373" y1="400.5" x2="1373" y2="452" stroke-width="1.2"/>
<line x1="1355.5" y1="452.4" x2="1390.5" y2="452.4" stroke-width="1.2"/>
<path d="M1356,465.3 Q1373,453.6 1390,465.3" stroke-width="1.5"/>
<line x1="1379.4" y1="445.9" x2="1386.2" y2="445.9" stroke-width="0.9"/>
<line x1="1382.8" y1="442.1" x2="1382.8" y2="449.7" stroke-width="0.7"/>
<line x1="1373" y1="459" x2="1373" y2="503" stroke-width="1.2"/>
<line x1="1355.3" y1="503" x2="1390.7" y2="503" stroke-width="1.65"/>
<line x1="1360.4" y1="508.2" x2="1385.6" y2="508.2" stroke-width="1.2"/>
<line x1="1365.4" y1="513.3" x2="1380.6" y2="513.3" stroke-width="1.65"/>
<line x1="1370.7" y1="518.5" x2="1375.3" y2="518.5" stroke-width="1.65"/>
<polyline points="1594,298.5 1525.5,298.5 1525.5,486 1594,486" stroke-width="1.65"/>
<line x1="1594" y1="298.5" x2="1594" y2="486" stroke-width="1.2"/>
<line x1="1441" y1="315.5" x2="1525.5" y2="315.5" stroke-width="1.65"/>
<line x1="1512" y1="333" x2="1525.5" y2="333" stroke-width="1.2"/>
<polyline points="1578,264.5 1475,264.5 1475,350 1525.5,350" stroke-width="1.5"/>
<polyline points="1578,197 1458,197 1458,367 1525.5,367" stroke-width="1.5"/>
<polyline points="1475,400.5 1475,384 1525.5,384" stroke-width="1.65"/>
<line x1="1475" y1="418" x2="1525.5" y2="418" stroke-width="1.2"/>
<line x1="1475" y1="418" x2="1475" y2="486" stroke-width="1.65"/>
<line x1="1512" y1="434.5" x2="1525.5" y2="434.5" stroke-width="1.5"/>
<line x1="1512" y1="451.5" x2="1525.5" y2="451.5" stroke-width="1.2"/>
<line x1="1475" y1="469" x2="1525.5" y2="469" stroke-width="1.65"/>
<line x1="1457.3" y1="486" x2="1492.7" y2="486" stroke-width="1.65"/>
<line x1="1462.4" y1="491.2" x2="1487.6" y2="491.2" stroke-width="1.65"/>
<line x1="1467.4" y1="496.3" x2="1482.6" y2="496.3" stroke-width="1.2"/>
<line x1="1472.7" y1="501.5" x2="1477.3" y2="501.5" stroke-width="1.65"/>
<polyline points="1576,187.5 1586,197 1576,206.5" stroke-width="1.2"/>
<polyline points="1584.5,187.5 1594.5,197 1584.5,206.5" stroke-width="1.2"/>
<polyline points="1576,255 1586,264.5 1576,274" stroke-width="1.2"/>
<polyline points="1584.5,255 1594.5,264.5 1584.5,274" stroke-width="1.2"/>
<polyline points="1576,578.5 1586,588 1576,597.5" stroke-width="1.2"/>
<polyline points="1584.5,578.5 1594.5,588 1584.5,597.5" stroke-width="1.2"/>
<polyline points="1576,663.5 1586,673 1576,682.5" stroke-width="1.2"/>
<polyline points="1584.5,663.5 1594.5,673 1584.5,682.5" stroke-width="1.2"/>
<line x1="1441" y1="588" x2="1578" y2="588" stroke-width="2"/>
<polyline points="1578,672.6 1237,672.6 1237,724" stroke-width="1.2"/>
<polyline points="1237,724 1242.5,729 1231.5,739.3 1242.5,749.6 1231.5,759.9 1242.5,770 1237,775" stroke-width="1.65"/>
<line x1="1237" y1="775" x2="1237" y2="860" stroke-width="1.65"/>
<polyline points="1237,860 1242.5,865 1231.5,875.3 1242.5,885.6 1231.5,895.9 1242.5,906 1237,911" stroke-width="1.65"/>
<line x1="1237" y1="911" x2="1237" y2="962" stroke-width="1.65"/>
<line x1="1219.3" y1="962" x2="1254.7" y2="962" stroke-width="1.65"/>
<line x1="1224.4" y1="967.2" x2="1249.6" y2="967.2" stroke-width="1.65"/>
<line x1="1229.4" y1="972.3" x2="1244.6" y2="972.3" stroke-width="1.2"/>
<line x1="1234.7" y1="977.5" x2="1239.3" y2="977.5" stroke-width="1.65"/>
<polyline points="947.5,1013 1152,1013 1152,826 1288,826" stroke-width="1.65"/>
<polyline points="1288,826 1293,820.5 1304,831.5 1314,820.5 1324,831.5 1334,820.5 1339,826" stroke-width="1.65"/>
<line x1="1339" y1="826" x2="1441" y2="826" stroke-width="1.65"/>
<line x1="1390" y1="826" x2="1390" y2="877" stroke-width="1.65"/>
<polyline points="1390,877 1395.5,882 1384.5,892.3 1395.5,902.6 1384.5,912.9 1395.5,923 1390,928" stroke-width="1.65"/>
<line x1="1390" y1="928" x2="1390" y2="962" stroke-width="1.65"/>
<line x1="1372.3" y1="962" x2="1407.7" y2="962" stroke-width="1.65"/>
<line x1="1377.4" y1="967.2" x2="1402.6" y2="967.2" stroke-width="1.65"/>
<line x1="1382.4" y1="972.3" x2="1397.6" y2="972.3" stroke-width="1.2"/>
<line x1="1387.7" y1="977.5" x2="1392.3" y2="977.5" stroke-width="1.65"/>
<polygon points="1423.5,912 1441,894 1458.5,912" fill="#000" stroke="none"/>
<polyline points="1423.5,903 1432.5,894 1449.5,894 1458.5,885.5" stroke-width="1.5"/>
<line x1="1423.3" y1="962" x2="1458.7" y2="962" stroke-width="1.65"/>
<line x1="1428.4" y1="967.2" x2="1453.6" y2="967.2" stroke-width="1.65"/>
<line x1="1433.4" y1="972.3" x2="1448.6" y2="972.3" stroke-width="1.2"/>
<line x1="1438.7" y1="977.5" x2="1443.3" y2="977.5" stroke-width="1.65"/>
<line x1="947.5" y1="893.5" x2="947.5" y2="1004" stroke-width="1.65"/>
<polygon points="930,1022 947.5,1004 965,1022" fill="#000" stroke="none"/>
<polyline points="930,1013 939,1004 956,1004 965,995.5" stroke-width="1.5"/>
<line x1="947.5" y1="1021" x2="947.5" y2="1080.5" stroke-width="1.65"/>
<line x1="929.8" y1="1080.5" x2="965.2" y2="1080.5" stroke-width="1.2"/>
<line x1="934.9" y1="1085.7" x2="960.1" y2="1085.7" stroke-width="1.65"/>
<line x1="939.9" y1="1090.8" x2="955.1" y2="1090.8" stroke-width="1.65"/>
<line x1="945.2" y1="1096" x2="949.8" y2="1096" stroke-width="1.2"/>
<line x1="947.5" y1="927.5" x2="964" y2="927.5" stroke-width="1.65"/>
<polyline points="964,927.5 969,933 979.3,922 989.6,933 999.9,922 1010,933 1015,927.5" stroke-width="1.5"/>
<polyline points="1015,927.5 1066,927.5 1066,965" stroke-width="1.65"/>
<line x1="1048.5" y1="965" x2="1083.5" y2="965" stroke-width="1.65"/>
<line x1="1048.5" y1="975" x2="1083.5" y2="975" stroke-width="1.2"/>
<line x1="1066" y1="975" x2="1066" y2="1013" stroke-width="1.65"/>
<polyline points="845.5,820.5 845.5,898.5 930.5,898.5 930.5,820.5" stroke-width="1.65"/>
<line x1="845.5" y1="820.5" x2="930.5" y2="820.5" stroke-width="1.2"/>
<polyline points="862.5,826 862.5,842.5 879.5,846" stroke-width="1.4"/>
<line x1="879.5" y1="842" x2="879.5" y2="877" stroke-width="1.2"/>
<line x1="879.5" y1="873" x2="868" y2="875.8" stroke-width="1.4"/>
<polygon points="862.5,877 868.5,872 870,878.5" fill="#000" stroke="none"/>
<polyline points="862.5,877 862.5,893.5" stroke-width="1.4"/>
<line x1="862.5" y1="893.5" x2="811.5" y2="893.5" stroke-width="1.2"/>
<line x1="811.5" y1="893.5" x2="811.5" y2="927.5" stroke-width="1.65"/>
<polygon points="794.8,927.5 828.2,927.5 811.5,944.7" fill="none" stroke-width="1.5"/>
<polygon points="908,851 920,851 914,859.5" fill="#000" stroke="none"/>
<line x1="908" y1="859.8" x2="920" y2="859.8" stroke-width="1"/>
<polyline points="907.5,861.5 894,849.5 900,861.5 890,851" stroke-width="1.2"/>
<polygon points="887.5,848.5 894.5,850 890,855" fill="#000" stroke="none"/>
<circle cx="182.5" cy="60.5" r="3.75" fill="#000" stroke="none"/>
<circle cx="216.5" cy="60.5" r="3.75" fill="#000" stroke="none"/>
<circle cx="284.5" cy="60.5" r="3.75" fill="#000" stroke="none"/>
<circle cx="352.5" cy="60.5" r="3.75" fill="#000" stroke="none"/>
<circle cx="403.5" cy="60.5" r="3.75" fill="#000" stroke="none"/>
<circle cx="692.5" cy="60.5" r="3.75" fill="#000" stroke="none"/>
<circle cx="403.5" cy="94.5" r="3.75" fill="#000" stroke="none"/>
<circle cx="403.5" cy="145.5" r="3.75" fill="#000" stroke="none"/>
<circle cx="522.5" cy="94.5" r="3.75" fill="#000" stroke="none"/>
<circle cx="522.5" cy="145.5" r="3.75" fill="#000" stroke="none"/>
<circle cx="641.5" cy="145.5" r="3.75" fill="#000" stroke="none"/>
<circle cx="641.5" cy="213.5" r="3.75" fill="#000" stroke="none"/>
<circle cx="692.5" cy="213.5" r="3.75" fill="#000" stroke="none"/>
<circle cx="63.5" cy="197" r="3.75" fill="#000" stroke="none"/>
<circle cx="29" cy="264.5" r="3.75" fill="#000" stroke="none"/>
<circle cx="182.5" cy="264.5" r="3.75" fill="#000" stroke="none"/>
<circle cx="216.5" cy="264.5" r="3.75" fill="#000" stroke="none"/>
<circle cx="284.5" cy="264.5" r="3.75" fill="#000" stroke="none"/>
<circle cx="29" cy="332.5" r="3.75" fill="#000" stroke="none"/>
<circle cx="182.5" cy="332.5" r="3.75" fill="#000" stroke="none"/>
<circle cx="182.5" cy="451.5" r="3.75" fill="#000" stroke="none"/>
<circle cx="29" cy="571" r="3.75" fill="#000" stroke="none"/>
<circle cx="63.5" cy="571" r="3.75" fill="#000" stroke="none"/>
<circle cx="182.5" cy="571" r="3.75" fill="#000" stroke="none"/>
<circle cx="284.5" cy="571" r="3.75" fill="#000" stroke="none"/>
<circle cx="63.5" cy="792" r="3.75" fill="#000" stroke="none"/>
<circle cx="165.5" cy="792" r="3.75" fill="#000" stroke="none"/>
<circle cx="811.5" cy="264.5" r="3.75" fill="#000" stroke="none"/>
<circle cx="556.5" cy="298.5" r="3.75" fill="#000" stroke="none"/>
<circle cx="556.5" cy="418" r="3.75" fill="#000" stroke="none"/>
<circle cx="624.5" cy="418" r="3.75" fill="#000" stroke="none"/>
<circle cx="556.5" cy="605" r="3.75" fill="#000" stroke="none"/>
<circle cx="743.5" cy="639" r="3.75" fill="#000" stroke="none"/>
<circle cx="811.5" cy="639" r="3.75" fill="#000" stroke="none"/>
<circle cx="1015.5" cy="111.5" r="3.75" fill="#000" stroke="none"/>
<circle cx="1152" cy="129.5" r="3.75" fill="#000" stroke="none"/>
<circle cx="1186" cy="129.5" r="3.75" fill="#000" stroke="none"/>
<circle cx="1305" cy="129.5" r="3.75" fill="#000" stroke="none"/>
<circle cx="1407" cy="129.5" r="3.75" fill="#000" stroke="none"/>
<circle cx="981.7" cy="384" r="3.75" fill="#000" stroke="none"/>
<circle cx="981.7" cy="418" r="3.75" fill="#000" stroke="none"/>
<circle cx="1118" cy="400.5" r="3.75" fill="#000" stroke="none"/>
<circle cx="1186" cy="400.5" r="3.75" fill="#000" stroke="none"/>
<circle cx="1253.5" cy="400.5" r="3.75" fill="#000" stroke="none"/>
<circle cx="1373" cy="400.5" r="3.75" fill="#000" stroke="none"/>
<circle cx="1407" cy="400.5" r="3.75" fill="#000" stroke="none"/>
<circle cx="1475" cy="400.5" r="3.75" fill="#000" stroke="none"/>
<circle cx="1441" cy="315.5" r="3.75" fill="#000" stroke="none"/>
<circle cx="1475" cy="469" r="3.75" fill="#000" stroke="none"/>
<circle cx="1441" cy="588" r="3.75" fill="#000" stroke="none"/>
<circle cx="1407" cy="673" r="3.75" fill="#000" stroke="none"/>
<circle cx="1237" cy="826" r="3.75" fill="#000" stroke="none"/>
<circle cx="1390" cy="826" r="3.75" fill="#000" stroke="none"/>
<circle cx="1441" cy="826" r="3.75" fill="#000" stroke="none"/>
<circle cx="913.5" cy="655.5" r="3.75" fill="#000" stroke="none"/>
<circle cx="1032.5" cy="655.5" r="3.75" fill="#000" stroke="none"/>
<circle cx="947.5" cy="927.5" r="3.75" fill="#000" stroke="none"/>
<circle cx="1066" cy="1013" r="3.75" fill="#000" stroke="none"/>
<circle cx="284.5" cy="894" r="3.75" fill="#000" stroke="none"/>
<circle cx="318" cy="962" r="3.75" fill="#000" stroke="none"/>
<circle cx="386.5" cy="962" r="3.75" fill="#000" stroke="none"/>
<circle cx="318" cy="1080.5" r="3.75" fill="#000" stroke="none"/>
<circle cx="386.5" cy="1080.5" r="3.75" fill="#000" stroke="none"/>
<circle cx="471.5" cy="1080.5" r="3.75" fill="#000" stroke="none"/>
<circle cx="556.5" cy="1080.5" r="3.75" fill="#000" stroke="none"/>
<circle cx="624.5" cy="1080.5" r="3.75" fill="#000" stroke="none"/>
<circle cx="556.5" cy="927.5" r="3.75" fill="#000" stroke="none"/>
<circle cx="624.5" cy="927.5" r="3.75" fill="#000" stroke="none"/>
<circle cx="675.5" cy="927.5" r="3.75" fill="#000" stroke="none"/>
</g>
<g font-family="'Liberation Sans', Arial, sans-serif" fill="#000" stroke="#000" stroke-width="0.35" text-rendering="geometricPrecision" xml:space="preserve">
<text transform="translate(80,40) scale(1.027,1)" font-size="15">D804</text>
<text transform="translate(131.5,40) scale(1.027,1)" font-size="15">2A07</text>
<text transform="translate(80,108) scale(1.027,1)" font-size="15">D803</text>
<text transform="translate(131.5,108) scale(1.027,1)" font-size="15">2A07</text>
<text transform="translate(80,176) scale(1.027,1)" font-size="15">D802</text>
<text transform="translate(131.5,176) scale(1.027,1)" font-size="15">2A07</text>
<text transform="translate(80,244) scale(1.027,1)" font-size="15">D801</text>
<text transform="translate(131.5,244) scale(1.027,1)" font-size="15">2A07</text>
<text transform="translate(233,193) scale(1.027,1)" font-size="15">C805</text>
<text transform="translate(233,210) scale(1.027,1)" font-size="15">100uF</text>
<text transform="translate(233,227) scale(1.027,1)" font-size="15">400V</text>
<text transform="translate(301,176) scale(1.027,1)" font-size="15">C813</text>
<text transform="translate(301,193) scale(1.027,1)" font-size="15">1000pF</text>
<text transform="translate(301,210) scale(1.027,1)" font-size="15">1KV</text>
<text transform="translate(369,244) scale(1.027,1)" font-size="15">R806</text>
<text transform="translate(369,261) scale(1.027,1)" font-size="15">510K</text>
<text transform="translate(369,363) scale(1.027,1)" font-size="15">R804</text>
<text transform="translate(369,380) scale(1.027,1)" font-size="15">510K</text>
<text transform="translate(369,482) scale(1.027,1)" font-size="15">R805</text>
<text transform="translate(369,499) scale(1.027,1)" font-size="15">510K</text>
<text transform="translate(80,363) scale(1.027,1)" font-size="15">R801</text>
<text transform="translate(131.5,363) scale(1.027,1)" font-size="15">NA</text>
<text transform="translate(63.5,398) scale(1.027,1)" font-size="15">R802</text>
<text transform="translate(63.5,415) scale(1.027,1)" font-size="15">10 3A</text>
<text transform="translate(80,482) scale(1.027,1)" font-size="15">R812</text>
<text transform="translate(131.5,482) scale(1.027,1)" font-size="15">470K</text>
<text transform="translate(80,533) scale(1.027,1)" font-size="15">R803</text>
<text transform="translate(80,550) scale(1.027,1)" font-size="15">470K</text>
<text transform="translate(301,432) scale(1.027,1)" font-size="15">L807</text>
<text transform="translate(301,449) scale(1.027,1)" font-size="15">3.5X9</text>
<text transform="translate(216,584) scale(1.027,1)" font-size="15">C802</text>
<text transform="translate(216,601) scale(1.027,1)" font-size="15">4700pF</text>
<text transform="translate(94,602) scale(1.027,1)" font-size="15">C804</text>
<text transform="translate(97,619) scale(1.027,1)" font-size="15">0.22uF</text>
<text transform="translate(12,703) scale(1.027,1)" font-size="15">C803</text>
<text transform="translate(12,720) scale(1.027,1)" font-size="15">4700pF</text>
<text transform="translate(148,686) scale(1.027,1)" font-size="15">L805</text>
<text transform="translate(148,703) scale(1.027,1)" font-size="15">ET-20</text>
<text transform="translate(97,754) scale(1.027,1)" font-size="15">C801</text>
<text transform="translate(97,771) scale(1.027,1)" font-size="15">0.22uF</text>
<text transform="translate(80,856) scale(1.027,1)" font-size="15">L802</text>
<text transform="translate(80,873) scale(1.027,1)" font-size="15">250uH</text>
<text transform="translate(182,890) scale(1.027,1)" font-size="15">L808</text>
<text transform="translate(182,907) scale(1.027,1)" font-size="15">BEAD</text>
<text transform="translate(80,924) scale(1.027,1)" font-size="15">F801</text>
<text transform="translate(80,942) scale(1.027,1)" font-size="15">T2.5A/250V</text>
<text transform="translate(12,1111) scale(1.027,1)" font-size="15">S801</text>
<text transform="translate(29,1151) scale(1.027,1)" font-size="20.45" font-weight="bold" fill="#000">AC IN 100~240V</text>
<text transform="translate(87.5,1089.5) rotate(-90) scale(1.027,1)" font-size="15" text-anchor="end">L</text>
<text transform="translate(121.3,1089.5) rotate(-90) scale(1.027,1)" font-size="15" text-anchor="end">FG</text>
<text transform="translate(155.2,1089.5) rotate(-90) scale(1.027,1)" font-size="15" text-anchor="end">N</text>
<text transform="translate(420,125) scale(1.027,1)" font-size="15">R833</text>
<text transform="translate(471.5,125) scale(1.027,1)" font-size="15">470K</text>
<text transform="translate(539,125) scale(1.027,1)" font-size="15">R835</text>
<text transform="translate(590.5,125) scale(1.027,1)" font-size="15">470K</text>
<text transform="translate(437,176) scale(1.027,1)" font-size="15">R834</text>
<text transform="translate(437,193) scale(1.027,1)" font-size="15">470K</text>
<text transform="translate(556,176) scale(1.027,1)" font-size="15">R836</text>
<text transform="translate(556,193) scale(1.027,1)" font-size="15">470K</text>
<text transform="translate(726,125) scale(1.027,1)" font-size="15">C806</text>
<text transform="translate(726,142) scale(1.027,1)" font-size="15">0.01uF/250V</text>
<text transform="translate(726,176) scale(1.027,1)" font-size="15">D806</text>
<text transform="translate(726,193) scale(1.027,1)" font-size="15">BYV26C</text>
<text transform="translate(420,244) scale(1.027,1)" font-size="15">D805</text>
<text transform="translate(472,244) scale(1.027,1)" font-size="15">P6KE130A</text>
<text transform="translate(624,244) scale(1.027,1)" font-size="15">L806</text>
<text transform="translate(607,261) scale(1.027,1)" font-size="15">3.5X9(5V)</text>
<text transform="translate(607,278) scale(1.027,1)" font-size="15">3.5X4.5(3.3V)</text>
<text transform="translate(726,329) scale(1.027,1)" font-size="15">D807</text>
<text transform="translate(726,346) scale(1.027,1)" font-size="15">1U4G</text>
<text transform="translate(573,363) scale(1.027,1)" font-size="15">D809</text>
<text transform="translate(573,380) scale(1.027,1)" font-size="15">SB140(3.3V)</text>
<text transform="translate(573,397) scale(1.027,1)" font-size="15">1N4148(5V)</text>
<text transform="translate(454,397) scale(1.027,1)" font-size="15">C810</text>
<text transform="translate(454,414) scale(1.027,1)" font-size="15">100uF/35V</text>
<text transform="translate(641,482) scale(1.027,1)" font-size="15">C807</text>
<text transform="translate(641,499) scale(1.027,1)" font-size="15">0.1uF</text>
<text transform="translate(726,482) scale(1.027,1)" font-size="15">C809</text>
<text transform="translate(726,499) scale(1.027,1)" font-size="15">22uF/50V</text>
<text transform="translate(828,466) scale(1.027,1)" font-size="15">L801</text>
<text transform="translate(828,483) scale(1.027,1)" font-size="15">BEAD</text>
<text transform="translate(845,517) scale(1.027,1)" font-size="15">Q801</text>
<text transform="translate(828,534) scale(1.027,1)" font-size="15">AP09N701-A</text>
<text transform="translate(420,550) scale(1.027,1)" font-size="15">I801</text>
<text transform="translate(472,550) scale(1.027,1)" font-size="15">SG6841</text>
<text transform="translate(429,577) scale(1.027,1)" font-size="15">GND</text>
<text transform="translate(473,577) scale(1.027,1)" font-size="15">Driver</text>
<text transform="translate(429,611) scale(1.027,1)" font-size="15">FB</text>
<text transform="translate(482,611) scale(1.027,1)" font-size="15">VDD</text>
<text transform="translate(429,646) scale(1.027,1)" font-size="15">VIN</text>
<text transform="translate(471,646) scale(1.027,1)" font-size="15">Sense</text>
<text transform="translate(429,680) scale(1.027,1)" font-size="15">RI</text>
<text transform="translate(493.5,680) scale(1.027,1)" font-size="15">RT</text>
<text transform="translate(400,570) scale(1.027,1)" font-size="15">1</text>
<text transform="translate(400,604) scale(1.027,1)" font-size="15">2</text>
<text transform="translate(400,638) scale(1.027,1)" font-size="15">3</text>
<text transform="translate(400,672) scale(1.027,1)" font-size="15">4</text>
<text transform="translate(534,570) scale(1.027,1)" font-size="15">8</text>
<text transform="translate(534,604) scale(1.027,1)" font-size="15">7</text>
<text transform="translate(534,638) scale(1.027,1)" font-size="15">6</text>
<text transform="translate(534,672) scale(1.027,1)" font-size="15">5</text>
<text transform="translate(624,602) scale(1.027,1)" font-size="15">R807</text>
<text transform="translate(675.5,602) scale(1.027,1)" font-size="15">10</text>
<text transform="translate(590,738) scale(1.027,1)" font-size="15">D808</text>
<text transform="translate(573,755) scale(1.027,1)" font-size="15">20-2V(3.3V)</text>
<text transform="translate(573,772) scale(1.027,1)" font-size="15">22-2V(5V)</text>
<text transform="translate(488,788) scale(1.027,1)" font-size="15">R832</text>
<text transform="translate(488,805) scale(1.027,1)" font-size="15">10</text>
<text transform="translate(369,805) scale(1.027,1)" font-size="15">R808</text>
<text transform="translate(369,822) scale(1.027,1)" font-size="15">22.1K 1%</text>
<text transform="translate(624,823) scale(1.027,1)" font-size="15">R814</text>
<text transform="translate(624,840) scale(1.027,1)" font-size="15">470</text>
<text transform="translate(726,771) scale(1.027,1)" font-size="15">C808</text>
<text transform="translate(726,788) scale(1.027,1)" font-size="15">0.1uF</text>
<text transform="translate(505,873) scale(1.027,1)" font-size="15">Q803</text>
<text transform="translate(488,890) scale(1.027,1)" font-size="15">2SC945</text>
<text transform="translate(505,1026) scale(1.027,1)" font-size="15">C811</text>
<text transform="translate(505,1044) scale(1.027,1)" font-size="15">0.1uF</text>
<text transform="translate(573,1026) scale(1.027,1)" font-size="15">R813</text>
<text transform="translate(573,1044) scale(1.027,1)" font-size="15">3K3</text>
<text transform="translate(709,1026) scale(1.027,1)" font-size="15">C827</text>
<text transform="translate(693,1044) scale(1.027,1)" font-size="15">1uF/50V</text>
<text transform="translate(335,1044) scale(1.027,1)" font-size="15">C812</text>
<text transform="translate(335,1061) scale(1.027,1)" font-size="15">NC</text>
<text transform="translate(352,1111) scale(1.027,1)" font-size="15">R815</text>
<text transform="translate(352,1128) scale(1.027,1)" font-size="15">NC</text>
<text transform="translate(607,1145) scale(1.027,1)" font-size="15">R809</text>
<text transform="translate(625,1162) scale(1.027,1)" font-size="15">1</text>
<text transform="translate(842,111) scale(1.027,1)" font-size="15">3</text>
<text transform="translate(843,264) scale(1.027,1)" font-size="15">1</text>
<text transform="translate(842,298) scale(1.027,1)" font-size="15">4</text>
<text transform="translate(842,349) scale(1.027,1)" font-size="15">5</text>
<text transform="translate(942,111) scale(1.027,1)" font-size="15">7,8</text>
<text transform="translate(942,196) scale(1.027,1)" font-size="15">9</text>
<text transform="translate(943,282) scale(1.027,1)" font-size="15">10</text>
<text transform="translate(943,349) scale(1.027,1)" font-size="15">11,12</text>
<text transform="translate(879,380) scale(1.027,1)" font-size="15">T801</text>
<text transform="translate(879,397) scale(1.027,1)" font-size="15">ER28</text>
<text transform="translate(1049,24) scale(1.027,1)" font-size="15">R820</text>
<text transform="translate(1100.5,24) scale(1.027,1)" font-size="15">22</text>
<text transform="translate(1015,177) scale(1.027,1)" font-size="15">D821</text>
<text transform="translate(1066,177) scale(1.027,1)" font-size="15">FCH20A15</text>
<text transform="translate(1185,92) scale(1.027,1)" font-size="15">C820</text>
<text transform="translate(1185,109) scale(1.027,1)" font-size="15">220PF</text>
<text transform="translate(1219,159) scale(1.027,1)" font-size="15">L803</text>
<text transform="translate(1219,177) scale(1.027,1)" font-size="15">5.2uH</text>
<text transform="translate(1168,278) scale(1.027,1)" font-size="15">C822</text>
<text transform="translate(1152,295) scale(1.027,1)" font-size="15">1500uF/16V</text>
<text transform="translate(1288,278) scale(1.027,1)" font-size="15">C823</text>
<text transform="translate(1271,295) scale(1.027,1)" font-size="15">1500uF/16V</text>
<text transform="translate(1355,244) scale(1.027,1)" font-size="15">9C1</text>
<text transform="translate(1355,261) scale(1.027,1)" font-size="15">D811</text>
<text transform="translate(1355,278) scale(1.027,1)" font-size="15">(3.3V)</text>
<text transform="translate(1508.5,178) scale(0.955,1)" font-size="16.02">Brightness</text>
<text transform="translate(1508.5,246) scale(0.955,1)" font-size="16.02">ON/OFF</text>
<text transform="translate(1015,346) scale(1.027,1)" font-size="15">D822</text>
<text transform="translate(1015,363) scale(1.027,1)" font-size="15">FCQ30A06</text>
<text transform="translate(1271,380) scale(1.027,1)" font-size="15">L804</text>
<text transform="translate(1322.5,380) scale(1.027,1)" font-size="15">5.2UH</text>
<text transform="translate(1032,517) scale(1.027,1)" font-size="15">R821</text>
<text transform="translate(1032,534) scale(1.027,1)" font-size="15">22</text>
<text transform="translate(1100,534) scale(1.027,1)" font-size="15">C821</text>
<text transform="translate(1100,551) scale(1.027,1)" font-size="15">220PF</text>
<text transform="translate(1168,534) scale(1.027,1)" font-size="15">C824</text>
<text transform="translate(1168,551) scale(1.027,1)" font-size="15">1500UF</text>
<text transform="translate(1168,568) scale(1.027,1)" font-size="15">10V</text>
<text transform="translate(1236,534) scale(1.027,1)" font-size="15">C828</text>
<text transform="translate(1236,551) scale(1.027,1)" font-size="15">1500UF</text>
<text transform="translate(1236,568) scale(1.027,1)" font-size="15">10V</text>
<text transform="translate(1355,534) scale(1.027,1)" font-size="15">C825</text>
<text transform="translate(1339,551) scale(1.027,1)" font-size="15">1000uF</text>
<text transform="translate(1356,568) scale(1.027,1)" font-size="15">10V</text>
<text transform="translate(947,568) scale(1.027,1)" font-size="15">C831</text>
<text transform="translate(947,585) scale(1.027,1)" font-size="15">NC</text>
<text transform="translate(947,686) scale(1.027,1)" font-size="15">C830</text>
<text transform="translate(947,703) scale(1.027,1)" font-size="15">4700PF</text>
<text transform="translate(828,720) scale(1.027,1)" font-size="15">R811</text>
<text transform="translate(828,737) scale(1.027,1)" font-size="15">0.47 / 2W</text>
<text transform="translate(1117,720) scale(1.027,1)" font-size="15">R823</text>
<text transform="translate(1117,737) scale(1.027,1)" font-size="15">1K</text>
<text transform="translate(1497,315) scale(1.027,1)" font-size="15">10</text>
<text transform="translate(1505,332) scale(1.027,1)" font-size="15">9</text>
<text transform="translate(1505,349) scale(1.027,1)" font-size="15">8</text>
<text transform="translate(1505,366) scale(1.027,1)" font-size="15">7</text>
<text transform="translate(1505,383) scale(1.027,1)" font-size="15">6</text>
<text transform="translate(1505,400) scale(1.027,1)" font-size="15">5</text>
<text transform="translate(1505,417) scale(1.027,1)" font-size="15">4</text>
<text transform="translate(1505,434) scale(1.027,1)" font-size="15">3</text>
<text transform="translate(1505,451) scale(1.027,1)" font-size="15">2</text>
<text transform="translate(1505,468) scale(1.027,1)" font-size="15">1</text>
<text transform="translate(1534,323) scale(1.027,1)" font-size="15">12V</text>
<text transform="translate(1534,340) scale(1.027,1)" font-size="15">NC</text>
<text transform="translate(1534,357) scale(1.027,1)" font-size="15">ON/OFF</text>
<text transform="translate(1534,374) scale(1.027,1)" font-size="15">DIM</text>
<text transform="translate(1534,391) scale(1.027,1)" font-size="15">5V/3.3V</text>
<text transform="translate(1534,408) scale(1.027,1)" font-size="15">5V/3.3V</text>
<text transform="translate(1534,425) scale(1.027,1)" font-size="15">GND</text>
<text transform="translate(1534,442) scale(1.027,1)" font-size="15">Mute</text>
<text transform="translate(1534,459) scale(1.027,1)" font-size="15">Volume</text>
<text transform="translate(1534,476) scale(1.027,1)" font-size="15">GND</text>
<text transform="translate(1543,519) scale(1.027,1)" font-size="18.5">P802</text>
<text transform="translate(1526,603) scale(0.955,1)" font-size="16.02">12V</text>
<text transform="translate(1491,688) scale(0.955,1)" font-size="16.02">5V / 3.3V</text>
<text transform="translate(1262,738) scale(1.027,1)" font-size="15">R824</text>
<text transform="translate(1254,755) scale(1.027,1)" font-size="15">22.1K 1%(5V)</text>
<text transform="translate(1254,772) scale(1.027,1)" font-size="15">6.81K 1% (3.3V)</text>
<text transform="translate(1288,857) scale(1.027,1)" font-size="15">R831</text>
<text transform="translate(1288,874) scale(1.027,1)" font-size="15">68K 1%</text>
<text transform="translate(1271,890) scale(1.027,1)" font-size="15">82.5K (3.3V)</text>
<text transform="translate(1185,890) scale(1.027,1)" font-size="15">R825</text>
<text transform="translate(1168,907) scale(1.027,1)" font-size="15">10K  1%</text>
<text transform="translate(1475,907) scale(1.027,1)" font-size="15">D810</text>
<text transform="translate(1475,924) scale(1.027,1)" font-size="15">12B1(5V)</text>
<text transform="translate(1373,992) scale(1.027,1)" font-size="15">R810</text>
<text transform="translate(1356,1009) scale(1.027,1)" font-size="15">1.82K 1%</text>
<text transform="translate(825,825) scale(1.027,1)" font-size="15">4</text>
<text transform="translate(944,825) scale(1.027,1)" font-size="15">1</text>
<text transform="translate(825,893) scale(1.027,1)" font-size="15">3</text>
<text transform="translate(943,893) scale(1.027,1)" font-size="15">2</text>
<text transform="translate(879.5,924) scale(1.027,1)" font-size="15">I802</text>
<text transform="translate(863,942) scale(1.027,1)" font-size="15">TLP621</text>
<text transform="translate(981,890) scale(1.027,1)" font-size="15">R826</text>
<text transform="translate(981,907) scale(1.027,1)" font-size="15">100</text>
<text transform="translate(998,975) scale(1.027,1)" font-size="15">C826</text>
<text transform="translate(998,992) scale(1.027,1)" font-size="15">0.1UF</text>
<text transform="translate(880,1026) scale(1.027,1)" font-size="15">I803</text>
<text transform="translate(864,1044) scale(1.027,1)" font-size="15">TL431D</text>
</g>
</svg>
</body>
</html>
